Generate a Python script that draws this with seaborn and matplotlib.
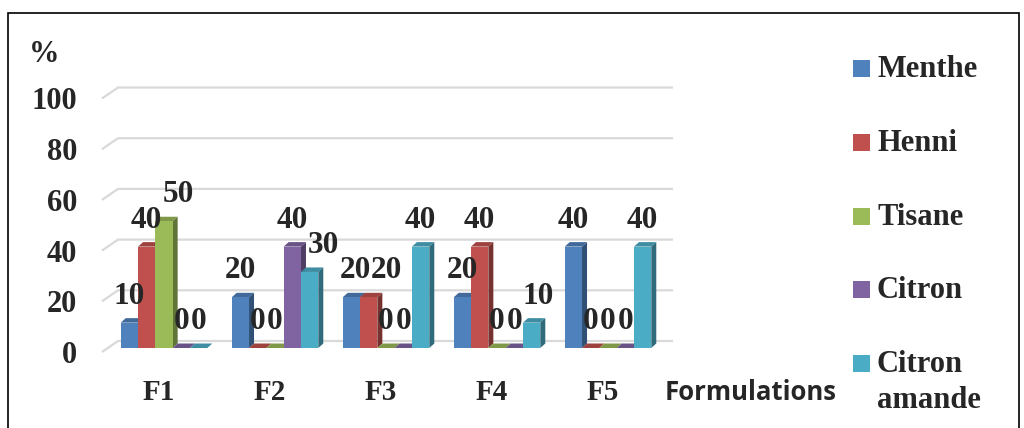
import numpy as np
import pandas as pd
import matplotlib
matplotlib.use("Agg")
import matplotlib.pyplot as plt
from matplotlib.patches import Polygon, Rectangle
from matplotlib.transforms import ScaledTranslation
from matplotlib.colors import to_rgb
import seaborn as sns

# Data
formulations = ["F1", "F2", "F3", "F4", "F5"]
ingredients = ["Menthe", "Henni", "Tisane", "Citron", "Citron amande"]
menthe = [10, 20, 20, 20, 40]
henni = [40, 0, 20, 40, 0]
tisane = [50, 0, 0, 0, 0]
citron = [0, 40, 0, 0, 0]
citron_amande = [0, 30, 40, 10, 40]
yticks = [0, 20, 40, 60, 80, 100]

colors = ["#4F81BD", "#C0504D", "#9BBB59", "#8064A2", "#4BACC6"]

series = [menthe, henni, tisane, citron, citron_amande]
df = pd.DataFrame({
    "Formulation": formulations * len(ingredients),
    "Ingredient": np.repeat(ingredients, len(formulations)),
    "Valeur": np.concatenate(series),
})

sns.set_style("white")
plt.rcParams["font.family"] = ["Liberation Serif", "DejaVu Serif"]

W, H = 1024, 428
fig = plt.figure(figsize=(W / 100, H / 100), dpi=100)

# plot area in pixels
px_left, px_right = 102, 673
px_zero, px_per_unit = 348, 2.535
cat_px = 111.0
cat0_px = 164.0
ax = fig.add_axes([px_left / W, (H - px_zero) / H,
                   (px_right - px_left) / W, 100 * px_per_unit / H])

sns.barplot(data=df, x="Formulation", y="Valeur", hue="Ingredient",
            order=formulations, hue_order=ingredients, palette=colors,
            width=0.78, saturation=1, legend=False, ax=ax, linewidth=0,
            errorbar=None)

xmin = -(cat0_px - px_left) / cat_px
xmax = (px_right - cat0_px) / cat_px
ax.set_xlim(xmin, xmax)
ax.set_ylim(0, 100)
for s in ax.spines.values():
    s.set_visible(False)
ax.set_xlabel("")
ax.set_ylabel("")


def dx(p):
    return p / cat_px


def dy(p):
    return p / px_per_unit


# 3D-style gridlines: short diagonal from front to back wall
for v in yticks:
    xs = [xmin, xmin + dx(16), xmax]
    ys = [v - dy(4), v + dy(7), v + dy(7)]
    ax.plot(xs, ys, color="#D9D9D9", lw=1.6, zorder=1, clip_on=False,
            solid_capstyle="butt")

# depth faces for each bar, plus value labels
ddx, ddy = dx(5), dy(4.5)
bars = sorted(ax.patches, key=lambda p: p.get_x())
labels = []
for i, p in enumerate(bars):
    x0 = p.get_x()
    w = p.get_width()
    h = p.get_height()
    x1 = x0 + w
    base = np.array(to_rgb(p.get_facecolor()))
    z = 2 + i * 0.01
    p.set_zorder(z + 0.002)
    top = Polygon([(x0, h), (x1, h), (x1 + ddx, h + ddy), (x0 + ddx, h + ddy)],
                  closed=True, facecolor=base * 0.82, edgecolor="none",
                  zorder=z, clip_on=False)
    side = Polygon([(x1, 0), (x1 + ddx, ddy), (x1 + ddx, h + ddy), (x1, h)],
                   closed=True, facecolor=base * 0.62, edgecolor="none",
                   zorder=z + 0.001, clip_on=False)
    ax.add_patch(top)
    ax.add_patch(side)
    t = ax.annotate(f"{h:.0f}", xy=(x0 + w / 2, h), xytext=(0, 19),
                    textcoords="offset pixels", ha="center", va="baseline",
                    fontsize=22.5, fontweight="bold", zorder=10,
                    annotation_clip=False)
    labels.append(t)

# nudge colliding value labels to the right so they sit side by side
renderer = fig.canvas.get_renderer()
placed = []
for t in labels:
    bb = t.get_window_extent(renderer)
    shift = 0.0
    for pb in placed:
        if bb.y0 < pb.y1 and bb.y1 > pb.y0 and bb.x0 + shift < pb.x1:
            shift = max(shift, pb.x1 - bb.x0)
    if shift > 0:
        ox, oy = t.xyann
        t.xyann = (ox + shift, oy)
        bb = t.get_window_extent(renderer)
    placed.append(bb)

# y ticks aligned with the front edge of the gridlines
ax.set_yticks(yticks)
ax.set_yticklabels([str(v) for v in yticks], fontsize=22, fontweight="bold")
ax.tick_params(axis="y", length=0, pad=18)
for lab in ax.get_yticklabels():
    lab.set_transform(lab.get_transform() +
                      ScaledTranslation(0, -4 / 100, fig.dpi_scale_trans))

ax.set_xticks(range(len(formulations)))
ax.set_xticklabels(formulations, fontsize=21, fontweight="bold")
ax.tick_params(axis="x", length=0, pad=22)
for lab in ax.get_xticklabels():
    lab.set_transform(lab.get_transform() +
                      ScaledTranslation(-5 / 100, 0, fig.dpi_scale_trans))

# axis titles
fig.text(44 / W, 1 - 54 / H, "%", ha="center", va="center",
         fontsize=22, fontweight="bold")
fig.text(665 / W, 1 - 393 / H, "Formulations", ha="left", va="center",
         fontsize=18.5, fontweight="bold", family=["Open Sans", "DejaVu Sans"])

# legend
leg_y = [68.5, 142.5, 216.5, 289.5, 363.5]
for name, c, yc in zip(ingredients, colors, leg_y):
    fig.add_artist(Rectangle((853 / W, 1 - (yc + 8.5) / H), 17 / W, 17 / H,
                             transform=fig.transFigure, facecolor=c,
                             edgecolor="none"))
    for k, word in enumerate(name.split(" ")):
        fig.text(877 / W, 1 - (yc + 1 + 36 * k) / H, word, ha="left",
                 va="center", fontsize=22, fontweight="bold")

# outer frame
fig.add_artist(Rectangle((8 / W, -0.05), 1011 / W, 1 - 13 / H + 0.05,
                         transform=fig.transFigure, facecolor="none",
                         edgecolor="black", lw=1.2, clip_on=False))

fig.savefig("out.png", dpi=100)
